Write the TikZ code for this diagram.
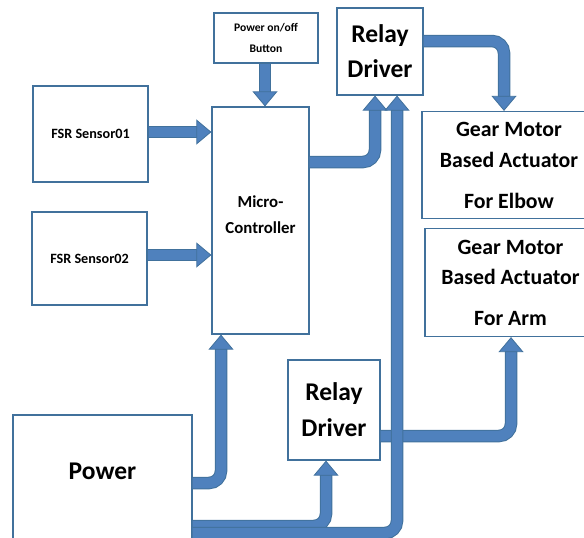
\documentclass[tikz,border=0pt]{standalone}
\usepackage{fontspec}
\setmainfont{Carlito}
\usetikzlibrary{arrows.meta}
\definecolor{pipefill}{HTML}{4F81BD}
\definecolor{pipeedge}{HTML}{41719C}

\begin{document}
\begin{tikzpicture}[x=1pt, y=-1pt,%pixel units
  box/.style={draw=pipeedge, line width=1.2pt, fill=white, align=center, inner sep=0pt, font=\bfseries},
  pipe/.style={line width=10.5pt, draw=pipefill, rounded corners=12pt,
    -{Triangle[width=25pt,length=15pt,line width=0.8pt,color=pipeedge,fill=pipefill]},
    preaction={draw=pipeedge, line width=12.5pt, -, shorten >=10pt}}]
  \useasboundingbox (0,0) rectangle (584,538);

  % blocks
  \node[box, minimum width=104pt, minimum height=50pt, font=\bfseries\fontsize{11.6}{21}\selectfont] (btn) at (266,38) {Power on/off\\Button};
  \node[box, minimum width=86pt, minimum height=87pt, font=\bfseries\fontsize{25.5}{35}\selectfont] (relayA) at (380,51.5) {Relay\\Driver};
  \node[box, minimum width=97pt, minimum height=227pt] (mcu) at (260.5,220.5) {};
  \node[font=\bfseries\fontsize{16.8}{26}\selectfont, align=center] (mcutext) at (260.5,215) {Micro-\\Controller};
  \node[box, minimum width=115pt, minimum height=96pt, font=\bfseries\fontsize{14.2}{16}\selectfont] (fsrA) at (90.5,134) {FSR Sensor01};
  \node[box, minimum width=115pt, minimum height=93pt, font=\bfseries\fontsize{14.2}{16}\selectfont] (fsrB) at (89.5,258.5) {FSR Sensor02};
  \node[box, minimum width=174pt, minimum height=107pt, font=\bfseries\fontsize{21.8}{31}\selectfont] (elbow) at (509,165) {Gear Motor\\Based Actuator\\[10pt]For Elbow};
  \node[box, minimum width=171pt, minimum height=108pt, font=\bfseries\fontsize{21.8}{30}\selectfont] (arm) at (510.5,282.5) {Gear Motor\\Based Actuator\\[11pt]For Arm};
  \node[box, minimum width=92pt, minimum height=100pt, font=\bfseries\fontsize{25.5}{36}\selectfont] (relayB) at (334,410) {Relay\\Driver};
  \node[box, minimum width=179pt, minimum height=145pt,
    label={[font=\bfseries\fontsize{25.5}{28}\selectfont, yshift=-69pt]north:Power}] (power) at (102.5,487.5) {};

  % connections
  \draw[pipe] (fsrA.east |- 0,132) -- (mcu.west |- 0,132);
  \draw[pipe] (fsrB.east |- 0,255) -- (mcu.west |- 0,255);
  \draw[pipe] (btn.south -| 265,0) -- (265,0 |- mcu.north);
  \draw[pipe] (mcu.east |- 0,162) -| (375,0 |- relayA.south);
  \draw[pipe] (power.east |- 0,483) -| (221,0 |- mcu.south);
  \draw[pipe] (relayA.east |- 0,41) -| (504,0 |- elbow.north);
  \draw[pipe] (relayB.east |- 0,436) -| (511,0 |- arm.south);
  \draw[pipe] (power.east |- 0,526) -| (326,0 |- relayB.south);
  \draw[pipe] (power.east |- 0,533) -| (397,0 |- relayA.south);
\end{tikzpicture}
\end{document}
